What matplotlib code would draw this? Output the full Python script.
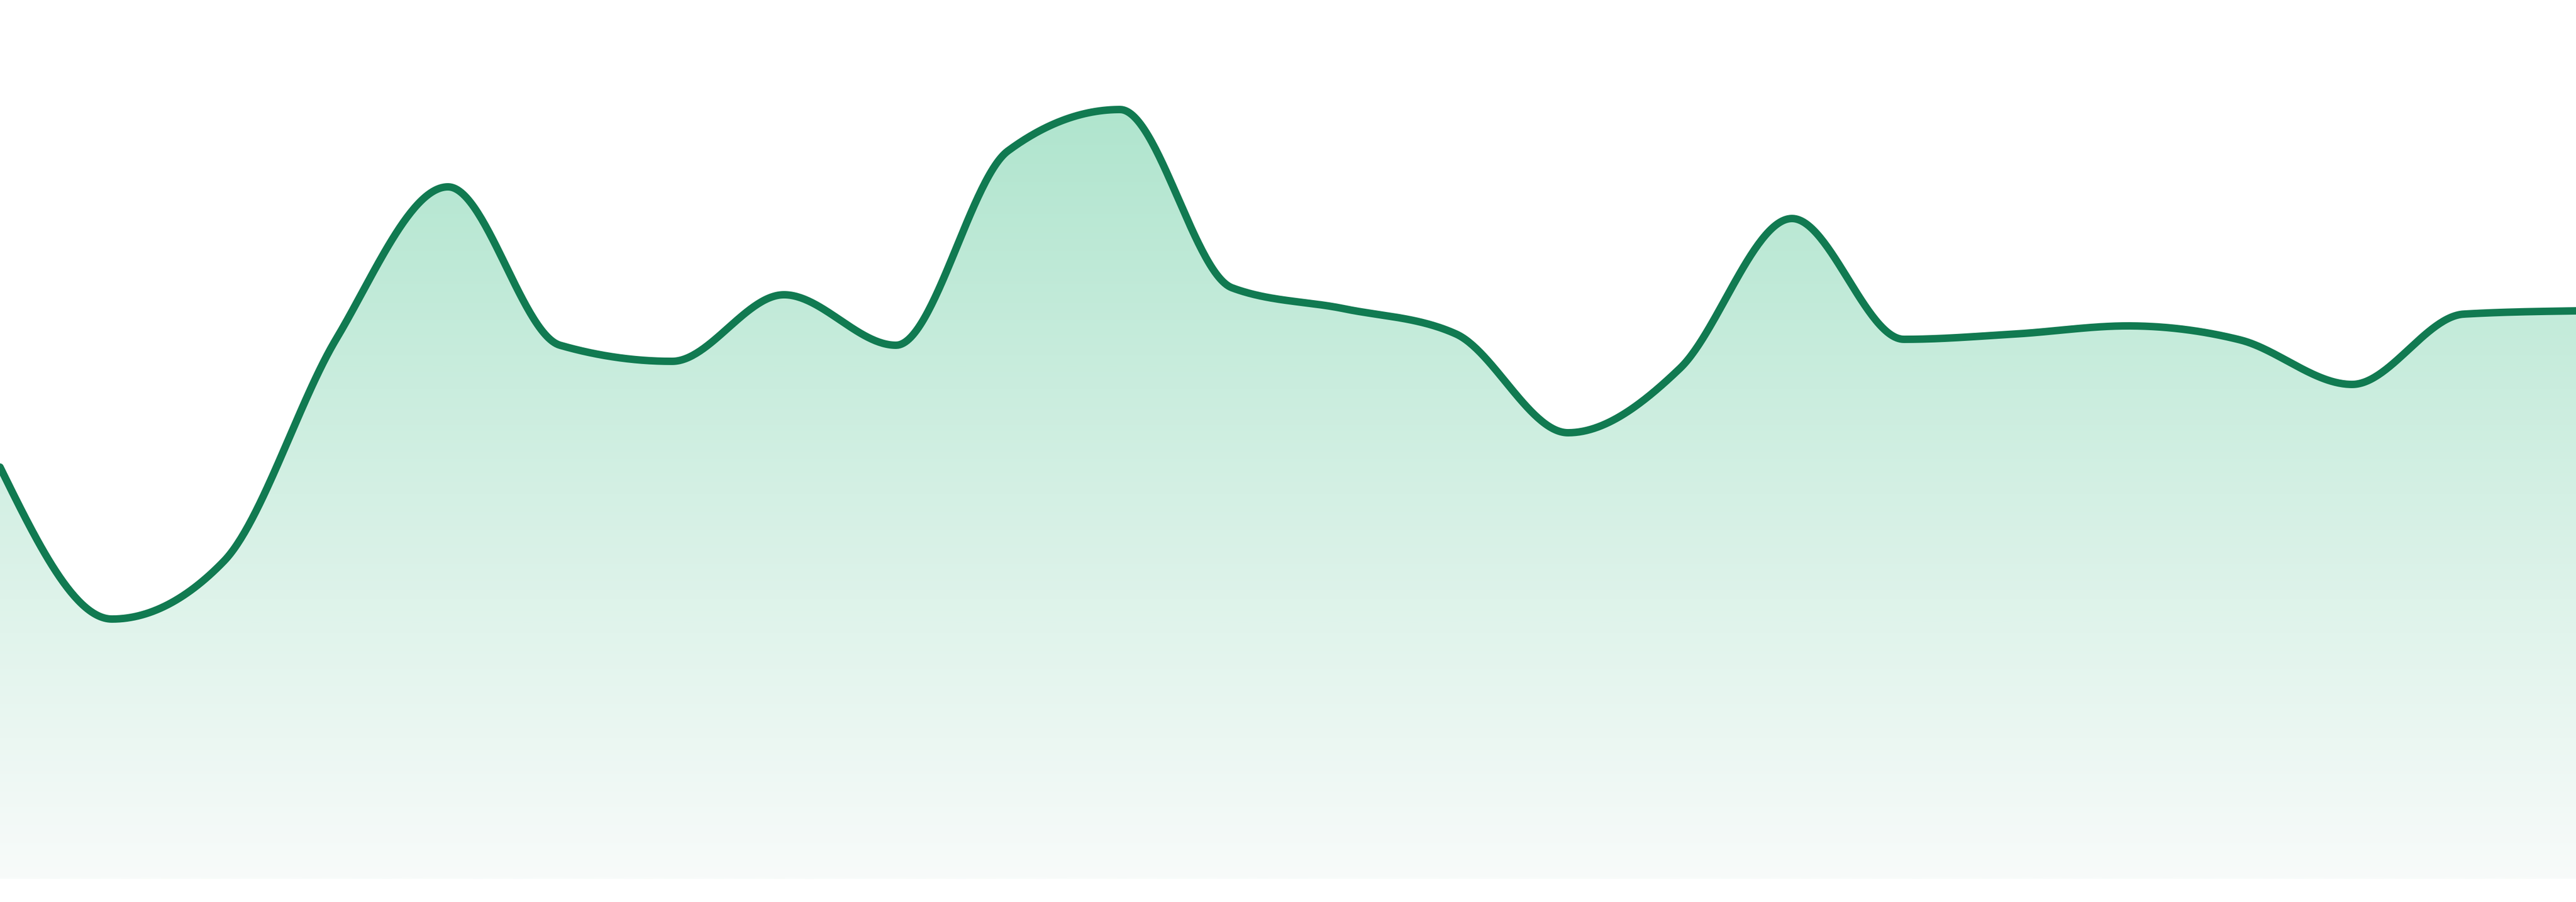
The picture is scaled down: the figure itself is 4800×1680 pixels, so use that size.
import numpy as np
import matplotlib
matplotlib.use("Agg")
from matplotlib import pyplot as plt
from matplotlib.colors import LinearSegmentedColormap

# readings, one per step (evenly spaced)
steps = list(range(24))
values = [76.7, 48.4, 59.2, 100.5, 128.9, 99.4, 96.4, 108.8, 99.4, 135.6, 143.3, 110.1,
          106.2, 101.5, 83.1, 95.1, 123.0, 100.5, 101.5, 103.0, 100.4, 92.1, 105.2, 105.8]

line_color = "#117a51"
fill_top = "#b0e5ce"
fill_bottom = "#f8fbfa"


def monotone_x(x, y, n=60):
    # same idea as d3 curveMonotoneX
    x = np.asarray(x, float)
    y = np.asarray(y, float)
    h = np.diff(x)
    s = np.diff(y) / h
    t = np.zeros_like(y)
    for i in range(1, len(y) - 1):
        p = (s[i - 1] * h[i] + s[i] * h[i - 1]) / (h[i - 1] + h[i])
        t[i] = (np.sign(s[i - 1]) + np.sign(s[i])) * min(abs(s[i - 1]), abs(s[i]), 0.5 * abs(p))
    t[0] = (3 * s[0] - t[1]) / 2
    t[-1] = (3 * s[-1] - t[-2]) / 2
    xs, ys = [], []
    for i in range(len(x) - 1):
        u = np.linspace(0, 1, n, endpoint=(i == len(x) - 2))
        h00 = 2 * u**3 - 3 * u**2 + 1
        h10 = u**3 - 2 * u**2 + u
        h01 = -2 * u**3 + 3 * u**2
        h11 = u**3 - u**2
        xs.append(x[i] + u * h[i])
        ys.append(h00 * y[i] + h10 * h[i] * t[i] + h01 * y[i + 1] + h11 * h[i] * t[i + 1])
    return np.concatenate(xs), np.concatenate(ys)


xs, ys = monotone_x(steps, values)

fig = plt.figure(figsize=(48, 16.8), dpi=100)
ax = fig.add_axes([0, 43 / 1680, 1, 1637 / 1680])
ymax = 163.7
ax.axis("off")

# vertical gradient under the curve
cmap = LinearSegmentedColormap.from_list("g", [fill_bottom, fill_top])
top = max(values)
grad = np.linspace(0, 1, 512).reshape(-1, 1)
img = ax.imshow(grad, cmap=cmap, aspect="auto", origin="lower",
                extent=[steps[0], steps[-1], 0, top], zorder=1)
clip = plt.Polygon(np.column_stack([np.r_[xs, xs[-1], xs[0]], np.r_[ys, 0, 0]]),
                   closed=True, transform=ax.transData)
img.set_clip_path(clip)

ax.plot(xs, ys, color=line_color, lw=10, solid_capstyle="round", zorder=3)
ax.set_xlim(steps[0], steps[-1])
ax.set_ylim(0, ymax)

fig.savefig("out.png", dpi=100, facecolor="white")
